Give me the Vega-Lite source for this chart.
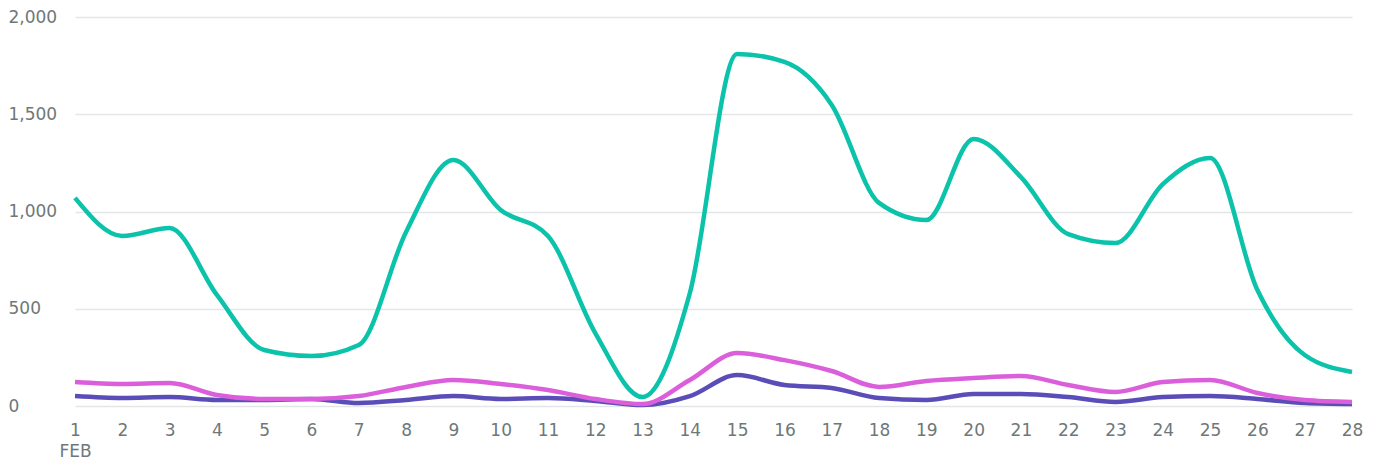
{
  "$schema": "https://vega.github.io/schema/vega-lite/v6.json",
  "autosize": "none",
  "width": 1277,
  "height": 389,
  "padding": {"left": 75, "top": 17, "right": 28, "bottom": 63},
  "background": "white",
  "config": {"view": {"stroke": null}},
  "data": {"values": [
    {"day": 1, "A": 1070, "B": 51, "C": 123},
    {"day": 2, "A": 874, "B": 41, "C": 113},
    {"day": 3, "A": 915, "B": 46, "C": 118},
    {"day": 4, "A": 571, "B": 31, "C": 57},
    {"day": 5, "A": 288, "B": 31, "C": 36},
    {"day": 6, "A": 257, "B": 36, "C": 36},
    {"day": 7, "A": 314, "B": 15, "C": 51},
    {"day": 8, "A": 895, "B": 31, "C": 98},
    {"day": 9, "A": 1265, "B": 51, "C": 134},
    {"day": 10, "A": 1008, "B": 36, "C": 113},
    {"day": 11, "A": 874, "B": 41, "C": 82},
    {"day": 12, "A": 375, "B": 26, "C": 36},
    {"day": 13, "A": 46, "B": 5, "C": 10},
    {"day": 14, "A": 581, "B": 51, "C": 134},
    {"day": 15, "A": 1810, "B": 159, "C": 272},
    {"day": 16, "A": 1769, "B": 108, "C": 236},
    {"day": 17, "A": 1548, "B": 93, "C": 180},
    {"day": 18, "A": 1044, "B": 41, "C": 98},
    {"day": 19, "A": 956, "B": 31, "C": 129},
    {"day": 20, "A": 1373, "B": 62, "C": 144},
    {"day": 21, "A": 1177, "B": 62, "C": 154},
    {"day": 22, "A": 884, "B": 46, "C": 108},
    {"day": 23, "A": 838, "B": 21, "C": 72},
    {"day": 24, "A": 1141, "B": 46, "C": 123},
    {"day": 25, "A": 1275, "B": 51, "C": 134},
    {"day": 26, "A": 596, "B": 36, "C": 67},
    {"day": 27, "A": 262, "B": 15, "C": 31},
    {"day": 28, "A": 175, "B": 10, "C": 21}
  ]},
  "transform": [{"fold": ["A", "B", "C"], "as": ["series", "value"]}],
  "mark": {"type": "line", "interpolate": "monotone", "strokeWidth": 4.5, "strokeCap": "butt"},
  "encoding": {
    "x": {
      "field": "day", "type": "quantitative",
      "scale": {"domain": [1, 28], "nice": false, "zero": false},
      "axis": {
        "title": null, "grid": false, "domain": false, "ticks": false,
        "values": [1,2,3,4,5,6,7,8,9,10,11,12,13,14,15,16,17,18,19,20,21,22,23,24,25,26,27,28],
        "labelExpr": "datum.value == 1 ? ['1', 'FEB'] : datum.label",
        "labelLineHeight": 21,
        "labelPadding": 16,
        "labelFont": "DejaVu Sans", "labelFontSize": 17, "labelColor": "#6e7878",
        "labelFlush": false, "labelOverlap": false
      }
    },
    "y": {
      "field": "value", "type": "quantitative",
      "scale": {"domain": [0, 2000], "nice": false},
      "axis": {
        "title": null, "domain": false, "ticks": false,
        "values": [0, 500, 1000, 1500, 2000],
        "format": ",d",
        "gridColor": "#e2e6e6", "gridWidth": 1.5,
        "labelAlign": "left", "labelPadding": 67, "labelBaseline": "middle", "labelOffset": 0,
        "labelFont": "DejaVu Sans", "labelFontSize": 17, "labelColor": "#6e7878"
      }
    },
    "color": {
      "field": "series", "type": "nominal",
      "scale": {"domain": ["A", "B", "C"], "range": ["#0bc2aa", "#5b4db8", "#db5fdb"]},
      "legend": null
    }
  }
}
